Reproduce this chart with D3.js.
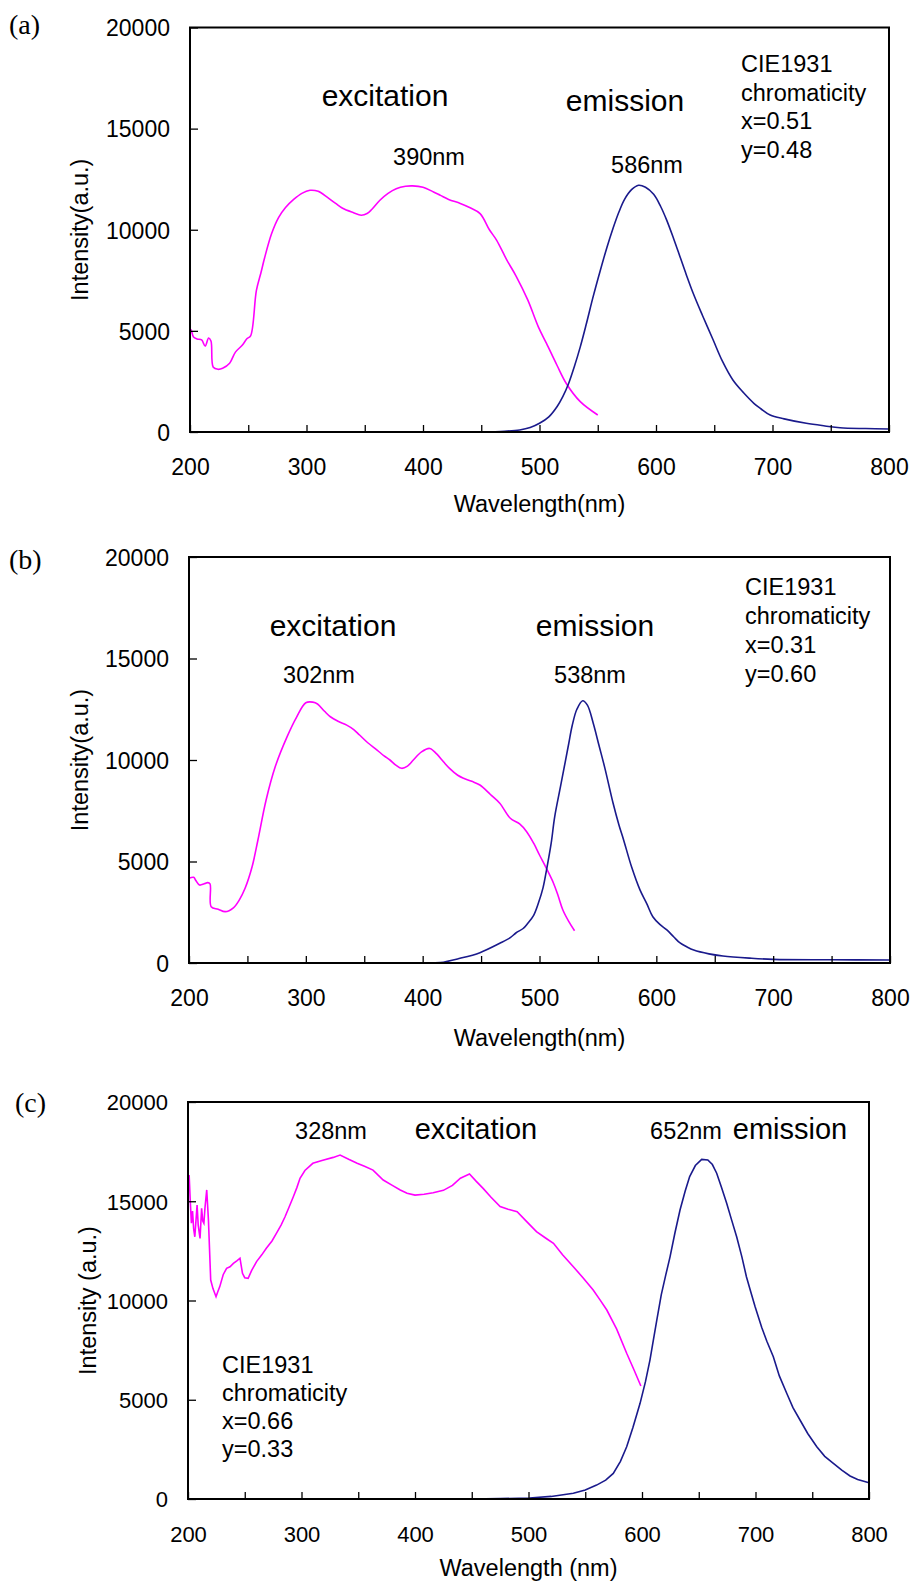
<!DOCTYPE html>
<html>
<head>
<meta charset="utf-8">
<script src="https://cdn.jsdelivr.net/npm/d3@7"></script>
<style>
  body { margin: 0; background: #fff; }
  svg text { font-family: "Liberation Sans", Arial, sans-serif; fill: #000; }
</style>
</head>
<body>
<svg id="drawing_region"></svg>
<script>
// tick values shared by all panels
const xTicks = d3.range(200, 801, 50);
const yTicks = [0, 5000, 10000, 15000, 20000];

// [wavelength nm, intensity a.u.]
const excitationA = [[200,4200],[201,5050],[203,4700],[206,4600],[210,4550],[213,4250],[216,4650],[218,4500],[220,3200],[224,3100],[228,3150],[234,3400],[239,3950],[245,4300],[249,4620],[252,4750],[257,7000],[261,7900],[264,8600],[270,9800],[276,10600],[282,11100],[289,11500],[296,11800],[303,11950],[310,11900],[318,11600],[325,11300],[331,11060],[340,10850],[347,10720],[352,10800],[356,11000],[363,11460],[370,11800],[377,12030],[385,12150],[391,12170],[400,12100],[409,11870],[415,11700],[422,11500],[432,11300],[440,11100],[449,10800],[457,10000],[463,9500],[472,8500],[480,7700],[490,6520],[499,5200],[506,4380],[515,3300],[523,2400],[535,1500],[550,840]];
const emissionA = [[450,0],[470,40],[483,100],[492,220],[500,430],[508,750],[515,1250],[520,1750],[525,2400],[530,3250],[535,4210],[540,5300],[546,6680],[552,7950],[558,9150],[563,10050],[568,10850],[573,11500],[579,11980],[585,12200],[591,12100],[598,11750],[604,11150],[609,10500],[615,9580],[621,8600],[626,7780],[632,6850],[640,5750],[649,4560],[657,3500],[666,2570],[675,1950],[684,1420],[690,1150],[698,840],[710,650],[729,430],[745,300],[758,210],[780,170],[800,150]];

const excitationB = [[200,4170],[204,4220],[206,4050],[209,3840],[213,3900],[216,3960],[218,3900],[219,2770],[225,2650],[231,2530],[238,2720],[243,3100],[248,3680],[254,4740],[259,6060],[266,8030],[274,9700],[284,11150],[292,12100],[300,12820],[306,12850],[310,12760],[316,12400],[321,12130],[328,11900],[335,11720],[341,11500],[346,11230],[353,10850],[361,10490],[367,10200],[372,10000],[377,9750],[382,9590],[387,9700],[392,10000],[399,10400],[406,10570],[412,10300],[418,9900],[423,9590],[430,9250],[435,9100],[442,8950],[449,8770],[458,8300],[466,7870],[475,7130],[483,6850],[489,6470],[495,5900],[500,5320],[506,4650],[512,3930],[516,3300],[520,2610],[525,2050],[530,1590]];
const emissionB = [[400,0],[415,20],[432,230],[449,510],[466,970],[475,1250],[480,1490],[486,1700],[490,1960],[495,2350],[499,2940],[503,3700],[506,4580],[510,5900],[513,7200],[518,8700],[522,9900],[525,10800],[528,11700],[532,12500],[537,12920],[541,12700],[546,11810],[551,10700],[556,9590],[563,7870],[568,6800],[572,6060],[579,4700],[586,3600],[592,2900],[597,2280],[603,1900],[609,1630],[615,1280],[620,1000],[626,800],[632,640],[645,450],[657,345],[680,240],[700,180],[750,160],[800,150]];

const excitationC = [[200,15650],[201,16320],[202,15000],[203,13890],[204,14500],[205,13600],[206,13210],[207,14000],[208,14810],[209,13800],[210.6,13130],[212,14640],[213,14000],[214,13890],[215,14700],[216.5,15570],[218,14060],[220,11030],[222,10600],[224.7,10190],[226,10400],[228,10700],[231,11300],[234,11620],[237,11700],[240,11870],[243,12000],[245.8,12130],[248,11370],[250,11150],[253,11120],[256,11500],[260.4,11960],[265,12300],[269,12630],[274,13000],[278,13390],[282,13800],[285.5,14220],[289,14700],[292.8,15230],[296,15700],[298.7,16160],[303,16550],[310,16910],[318,17050],[328,17210],[334,17330],[342,17100],[349,16910],[356,16750],[363,16570],[372,16070],[380,15800],[387,15570],[393,15400],[400,15310],[408,15350],[416,15430],[425,15550],[433,15800],[440,16160],[448,16370],[454,16000],[460,15650],[467,15200],[475,14730],[482,14600],[490,14470],[498,14000],[507,13470],[515,13150],[522,12880],[530,12300],[539.5,11700],[548,11150],[557,10530],[563,10030],[569,9520],[577.7,8560],[586.5,7340],[593,6500],[599,5690]];
const emissionC = [[450,0],[475,20],[501,50],[520,130],[539.5,290],[550,450],[560,700],[568,950],[574.7,1290],[581,1900],[586.5,2630],[592,3600],[598.3,4820],[603,5900],[607,7000],[610,8000],[613,9000],[617,10300],[621,11300],[624.7,12200],[629,13400],[633.5,14560],[638,15500],[642,16240],[647,16800],[652.6,17110],[658,17080],[662,16850],[665.8,16410],[670,15700],[674.6,14900],[679,14050],[683.4,13210],[688,12200],[692,11200],[696,10400],[699.6,9700],[705.5,8640],[710,7950],[715.7,7170],[721,6200],[727.5,5330],[733,4600],[739.2,3980],[746,3300],[754,2630],[761,2150],[768.6,1800],[776,1450],[783.3,1160],[790,980],[800,820]];

const cieA = ['CIE1931', 'chromaticity', 'x=0.51', 'y=0.48'];
const cieB = ['CIE1931', 'chromaticity', 'x=0.31', 'y=0.60'];
const cieC = ['CIE1931', 'chromaticity', 'x=0.66', 'y=0.33'];

const svg = d3.select('#drawing_region')
    .attr('width', 914)
    .attr('height', 1585);

const smooth = d3.curveCatmullRom.alpha(0.5);

const panels = [
    { letter: '(a)', letterPos: [9, 34], box: {l:190, r:889, t:27.5, b:432},
      exc: excitationA, em: emissionA, curve: smooth, tickFont: 23,
      ylabel: 'Intensity(a.u.)', ylabelX: 88, xlabel: 'Wavelength(nm)', xlabelY: 512,
      cie: cieA, ciePos: [741, 72], cieStep: 28.5,
      notes: [ {t:'excitation', x:385, y:106, s:30}, {t:'390nm', x:429, y:165, s:23.5},
               {t:'emission', x:625, y:111, s:30}, {t:'586nm', x:647, y:173, s:23.5} ] },
    { letter: '(b)', letterPos: [9, 569], box: {l:189, r:890, t:557, b:963},
      exc: excitationB, em: emissionB, curve: smooth, tickFont: 23,
      ylabel: 'Intensity(a.u.)', ylabelX: 88, xlabel: 'Wavelength(nm)', xlabelY: 1046,
      cie: cieB, ciePos: [745, 595], cieStep: 29,
      notes: [ {t:'excitation', x:333, y:636, s:30}, {t:'302nm', x:319, y:683, s:23.5},
               {t:'emission', x:595, y:636, s:30}, {t:'538nm', x:590, y:683, s:23.5} ] },
    { letter: '(c)', letterPos: [15, 1112], box: {l:188, r:869, t:1102, b:1499},
      exc: excitationC, em: emissionC, curve: d3.curveLinear, tickFont: 22,
      ylabel: 'Intensity (a.u.)', ylabelX: 96, xlabel: 'Wavelength (nm)', xlabelY: 1576,
      cie: cieC, ciePos: [222, 1373], cieStep: 28,
      notes: [ {t:'328nm', x:331, y:1139, s:23.5}, {t:'excitation', x:476, y:1139, s:29},
               {t:'652nm', x:686, y:1139, s:23.5}, {t:'emission', x:790, y:1139, s:29} ] }
];

panels.forEach(p => drawPanel(p));

function drawPanel(p) {
    const b = p.box;
    const xscale = d3.scaleLinear().domain([200, 800]).range([b.l, b.r]);
    const yscale = d3.scaleLinear().domain([0, 20000]).range([b.b, b.t]);
    const g = svg.append('g');

    // curves
    const line = d3.line()
        .x(d => xscale(d[0]))
        .y(d => yscale(d[1]))
        .curve(p.curve);

    g.append('path').datum(p.exc)
        .attr('d', line)
        .attr('fill', 'none')
        .attr('stroke', '#ff00ff')
        .attr('stroke-width', 1.6);

    g.append('path').datum(p.em)
        .attr('d', line)
        .attr('fill', 'none')
        .attr('stroke', '#1a1a8c')
        .attr('stroke-width', 1.6);

    // axes, ticks pointing inward
    const xaxis = d3.axisBottom(xscale)
        .tickValues(xTicks)
        .tickSizeInner(-7)
        .tickSizeOuter(0)
        .tickPadding(27)
        .tickFormat(d => d % 100 === 0 ? d : '');
    const yaxis = d3.axisLeft(yscale)
        .tickValues(yTicks)
        .tickSizeInner(-8)
        .tickSizeOuter(0)
        .tickPadding(20)
        .tickFormat(d => d);

    const xg = g.append('g')
        .attr('transform', `translate(0, ${b.b})`)
        .call(xaxis);
    const yg = g.append('g')
        .attr('transform', `translate(${b.l}, 0)`)
        .call(yaxis);

    [xg, yg].forEach(a => {
        a.selectAll('text')
            .style('font-family', '"Liberation Sans", Arial, sans-serif')
            .style('font-size', p.tickFont + 'px')
            .attr('fill', '#000');
        a.selectAll('line').attr('stroke', '#000').attr('stroke-width', 1.3);
        a.select('.domain').remove();
    });
    yg.selectAll('text').attr('dy', '0.36em');

    // frame
    g.append('rect')
        .attr('x', b.l).attr('y', b.t)
        .attr('width', b.r - b.l).attr('height', b.b - b.t)
        .attr('fill', 'none')
        .attr('stroke', '#000')
        .attr('stroke-width', 2);

    // axis titles
    g.append('text')
        .attr('x', (b.l + b.r) / 2)
        .attr('y', p.xlabelY)
        .attr('text-anchor', 'middle')
        .style('font-size', '23.5px')
        .text(p.xlabel);

    g.append('text')
        .attr('transform', `translate(${p.ylabelX}, ${(b.t + b.b) / 2}) rotate(-90)`)
        .attr('text-anchor', 'middle')
        .style('font-size', '23.5px')
        .text(p.ylabel);

    // panel letter
    g.append('text')
        .attr('x', p.letterPos[0])
        .attr('y', p.letterPos[1])
        .style('font-family', '"Liberation Serif", "DejaVu Serif", serif')
        .style('font-size', '28px')
        .text(p.letter);

    // peak labels
    p.notes.forEach(n => {
        g.append('text')
            .attr('x', n.x).attr('y', n.y)
            .attr('text-anchor', 'middle')
            .style('font-size', n.s + 'px')
            .text(n.t);
    });

    // chromaticity block
    p.cie.forEach((t, i) => {
        g.append('text')
            .attr('x', p.ciePos[0])
            .attr('y', p.ciePos[1] + i * p.cieStep)
            .style('font-size', '23.5px')
            .text(t);
    });
}
</script>
</body>
</html>
